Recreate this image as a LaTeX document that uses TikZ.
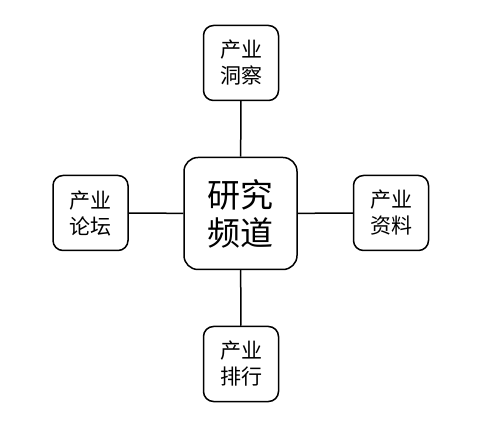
\documentclass[tikz,border=0pt]{standalone}
\usepackage{fontspec}
\newfontfamily\cjk{Noto Sans CJK SC}
\usetikzlibrary{positioning}

\begin{document}
\begin{tikzpicture}[x=1pt, y=1pt,
    topic/.style={draw, rectangle, rounded corners=10pt, line width=1.5pt,
        minimum width=75pt, minimum height=75pt, align=center,
        font=\cjk\fontsize{21}{26}\selectfont},
    hub/.style={draw, rectangle, rounded corners=14pt, line width=1.5pt,
        minimum width=113pt, minimum height=112pt, align=center,
        font=\cjk\fontsize{33}{38}\selectfont}]
    \useasboundingbox (0,0) rectangle (478,425);

    \node[hub] (channel) at (240.5,211.5) {研究\\频道};

    \node[topic] (insight) at (241,362) {产业\\洞察};
    \node[topic] (forum) at (90.5,212) {产业\\论坛};
    \node[topic] (data) at (391,212) {产业\\资料};
    \node[topic] (rank) at (241,61) {产业\\排行};

    \draw[line width=1.5pt] (channel) -- (insight);
    \draw[line width=1.5pt] (channel) -- (forum);
    \draw[line width=1.5pt] (channel) -- (data);
    \draw[line width=1.5pt] (channel) -- (rank);
\end{tikzpicture}
\end{document}
